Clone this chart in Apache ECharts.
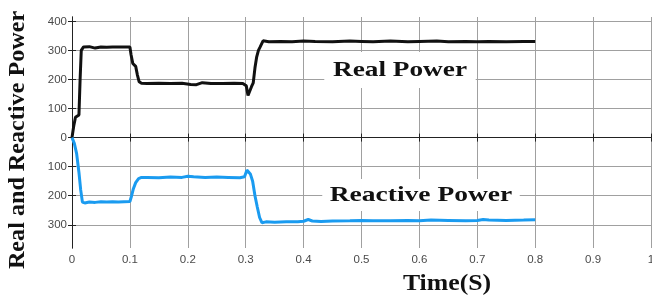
<!DOCTYPE html>
<html>
<head>
<meta charset="utf-8">
<script src="https://cdn.jsdelivr.net/npm/echarts@6/dist/echarts.min.js"></script>
<style>
  html, body { margin: 0; padding: 0; background: #fff; }
  #chart { width: 652px; height: 296px; }
</style>
</head>
<body>
<div id="chart"></div>
<script>
// time axis (s) and the two measured curves
var realTime = [0, 0.003, 0.006, 0.012, 0.014, 0.016, 0.02, 0.03, 0.04, 0.05, 0.06, 0.07, 0.08, 0.09, 0.1,
  0.102, 0.105, 0.108, 0.11, 0.113, 0.116, 0.12, 0.13, 0.15, 0.17, 0.19, 0.205, 0.215, 0.225, 0.24, 0.26, 0.28, 0.295,
  0.301, 0.304, 0.307, 0.31, 0.313, 0.316, 0.319, 0.322, 0.325, 0.33, 0.34, 0.36, 0.38, 0.4, 0.42, 0.45, 0.48,
  0.5, 0.52, 0.55, 0.58, 0.6, 0.63, 0.65, 0.68, 0.7, 0.72, 0.75, 0.78, 0.8]
var realPower = [0, 40, 70, 78, 200, 300, 312, 313, 308, 312, 311, 312, 312, 312, 312,
  285, 255, 250, 245, 215, 192, 187, 186, 187, 186, 187, 183, 182, 189, 186, 186, 187, 186,
  178, 145, 150, 175, 188, 240, 278, 300, 312, 333, 330, 331, 330, 332, 331, 330, 332,
  331, 330, 332, 330, 331, 332, 330, 331, 330, 331, 330, 331, 331]

var reactTime = [0, 0.004, 0.008, 0.012, 0.015, 0.018, 0.022, 0.03, 0.04, 0.05, 0.06, 0.07, 0.08, 0.09, 0.1,
  0.103, 0.106, 0.11, 0.115, 0.12, 0.13, 0.15, 0.17, 0.19, 0.2, 0.21, 0.23, 0.25, 0.27, 0.29,
  0.298, 0.302, 0.305, 0.308, 0.312, 0.316, 0.32, 0.324, 0.328, 0.335, 0.35, 0.37, 0.39, 0.4, 0.408, 0.415,
  0.43, 0.45, 0.48, 0.5, 0.52, 0.55, 0.58, 0.6, 0.62, 0.65, 0.68, 0.7, 0.71, 0.72, 0.75, 0.78, 0.8]
var reactivePower = [0, -20, -55, -120, -180, -222, -225, -222, -223, -221, -222, -221, -222, -221, -220,
  -200, -176, -155, -141, -137, -137, -138, -136, -137, -133, -135, -137, -136, -137, -138,
  -135, -112, -110, -125, -150, -200, -239, -275, -293, -290, -291, -290, -290, -288, -282, -287,
  -289, -287, -286, -285, -286, -286, -285, -286, -284, -285, -286, -285, -282, -284, -285, -284, -283]

var yTicks = [-300, -200, -100, 0, 100, 200, 300, 400]

function zip(xs, ys) {
  var out = []
  for (var i = 0; i < xs.length; i++) out.push([xs[i], ys[i]])
  return out
}

var chart = echarts.init(document.getElementById('chart'), null, { renderer: 'canvas' })

var tickFont = { color: '#4a4a4a', fontSize: 11.5, fontFamily: 'Liberation Sans, Arial' }
var gridLine = { show: true, lineStyle: { color: '#a0a0a0', width: 1 } }
var serifBold = 'bold 22px "Liberation Serif", "Times New Roman", serif'
var fringe = { textShadowColor: '#d07a10', textShadowOffsetX: -1, textShadowOffsetY: 1, textShadowBlur: 0 }

var option = {
  backgroundColor: '#fff',
  animation: false,
  grid: { left: 72, right: 1, top: 17, bottom: 48, outerBoundsMode: 'none', containLabel: false },
  xAxis: [{
    type: 'value', min: 0, max: 1, interval: 0.1,
    axisLine: { lineStyle: { color: '#222', width: 1 } },
    axisTick: { inside: true, length: 4, lineStyle: { color: '#222' } },
    axisLabel: Object.assign({ margin: 6, hideOverlap: false, formatter: function (v) { return String(+v.toFixed(1)) } }, tickFont),
    splitLine: gridLine
  }, {
    type: 'value', min: 0, max: 1, interval: 0.1, position: 'top',
    axisLine: { show: true, lineStyle: { color: '#222', width: 1 } },
    axisTick: { show: true, inside: true, length: 4, lineStyle: { color: '#222' } },
    axisLabel: { show: false }, splitLine: { show: false }
  }],
  yAxis: [{
    type: 'value', min: -380, max: 415,
    axisLine: { show: true, lineStyle: { color: '#222', width: 1 } },
    axisTick: { show: true, inside: true, length: 4, customValues: yTicks, lineStyle: { color: '#222' } },
    axisLabel: Object.assign({ margin: 5, customValues: yTicks, formatter: function (v) { return String(Math.abs(v)) } }, tickFont),
    splitLine: gridLine
  }, {
    type: 'value', min: -380, max: 415, position: 'right',
    axisLine: { show: true, lineStyle: { color: '#222', width: 1 } },
    axisTick: { show: true, inside: true, length: 4, customValues: yTicks, lineStyle: { color: '#222' } },
    axisLabel: { show: false }, splitLine: { show: false }
  }],
  series: [{
    name: 'Real Power', type: 'line', showSymbol: false,
    data: zip(realTime, realPower),
    lineStyle: { color: '#111', width: 3 }, z: 3
  }, {
    name: 'Reactive Power', type: 'line', showSymbol: false,
    data: zip(reactTime, reactivePower),
    lineStyle: { color: '#1a9bf0', width: 3 }, z: 3
  }],
  graphic: [{
    type: 'text', x: 400, y: 70, scaleX: 1.24, z: 10,
    style: Object.assign({ text: 'Real Power', font: serifBold, fill: '#111', align: 'center', verticalAlign: 'middle',
      backgroundColor: '#fff', padding: [7, 7, 7, 7] }, fringe)
  }, {
    type: 'text', x: 421, y: 195, scaleX: 1.25, z: 10,
    style: Object.assign({ text: 'Reactive Power', font: serifBold, fill: '#111', align: 'center', verticalAlign: 'middle',
      backgroundColor: '#fff', padding: [5, 6, 5, 6] }, fringe)
  }, {
    type: 'text', x: 447, y: 284, scaleX: 1.12, z: 10,
    style: Object.assign({ text: 'Time(S)', font: 'bold 23px "Liberation Serif", "Times New Roman", serif',
      fill: '#111', align: 'center', verticalAlign: 'middle' }, fringe)
  }, {
    type: 'text', x: 18, y: 140, rotation: Math.PI / 2, scaleX: 1.05, z: 10,
    style: Object.assign({ text: 'Real and Reactive Power', font: 'bold 23px "Liberation Serif", "Times New Roman", serif',
      fill: '#111', align: 'center', verticalAlign: 'middle' }, fringe)
  }]
}

chart.setOption(option)
</script>
</body>
</html>
